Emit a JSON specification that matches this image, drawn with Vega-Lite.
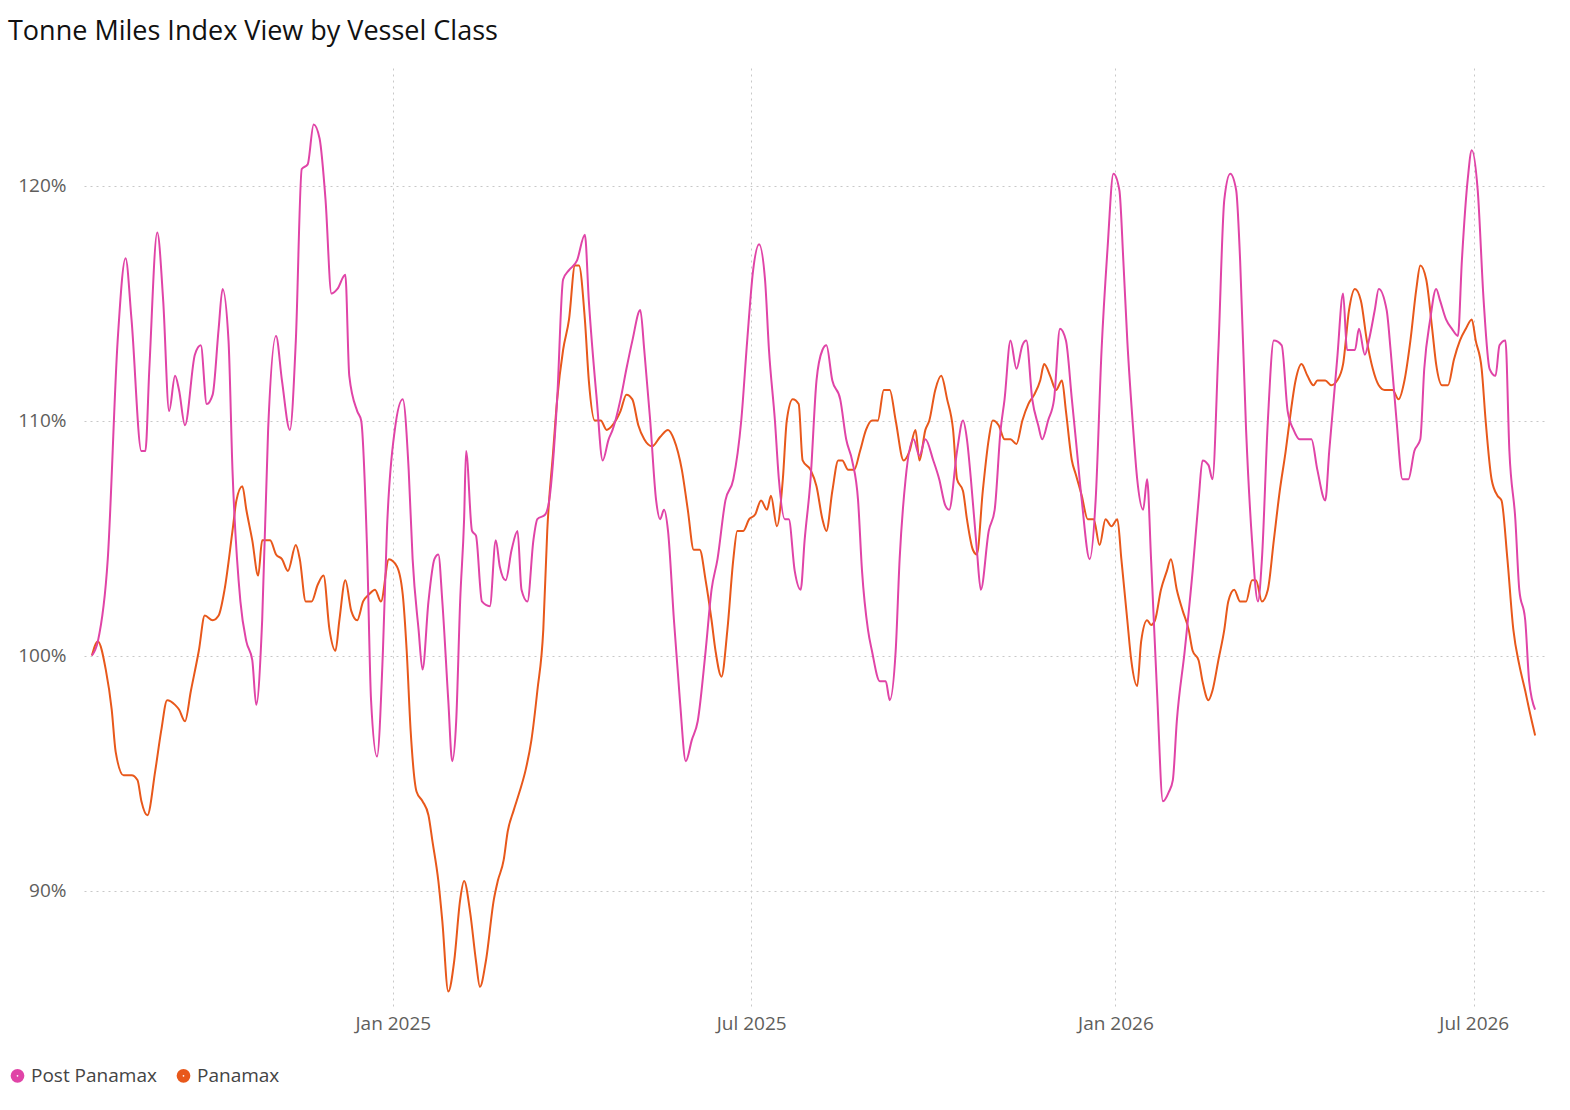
{
  "$schema": "https://vega.github.io/schema/vega-lite/v6.json",
  "autosize": "none",
  "width": 1463,
  "height": 940,
  "padding": {"left": 84, "top": 68, "right": 23, "bottom": 102},
  "background": "white",
  "title": {"text": "Tonne Miles Index View by Vessel Class", "anchor": "start", "frame": "bounds", "dx": 0, "offset": 22, "fontSize": 27, "font": "Open Sans", "fontWeight": "normal", "color": "#111111"},
  "datasets": {
    "post": [
      {"d":"2024-08-02","v":100.0},{"d":"2024-08-05","v":100.6},{"d":"2024-08-10","v":104.1},{"d":"2024-08-15","v":113.4},{"d":"2024-08-19","v":116.9},{"d":"2024-08-22","v":114.3},{"d":"2024-08-27","v":108.7},{"d":"2024-08-29","v":108.7},{"d":"2024-08-31","v":112.2},{"d":"2024-09-04","v":118.0},{"d":"2024-09-07","v":115.1},{"d":"2024-09-10","v":110.4},{"d":"2024-09-13","v":111.9},{"d":"2024-09-15","v":111.3},{"d":"2024-09-18","v":109.8},{"d":"2024-09-23","v":112.8},{"d":"2024-09-26","v":113.2},{"d":"2024-09-29","v":110.7},{"d":"2024-10-02","v":111.1},{"d":"2024-10-05","v":113.9},{"d":"2024-10-07","v":115.6},{"d":"2024-10-10","v":113.4},{"d":"2024-10-12","v":107.9},{"d":"2024-10-16","v":102.3},{"d":"2024-10-19","v":100.6},{"d":"2024-10-22","v":99.8},{"d":"2024-10-24","v":97.9},{"d":"2024-10-27","v":101.5},{"d":"2024-10-30","v":109.6},{"d":"2024-11-03","v":113.6},{"d":"2024-11-06","v":111.7},{"d":"2024-11-10","v":109.6},{"d":"2024-11-13","v":113.4},{"d":"2024-11-16","v":120.7},{"d":"2024-11-19","v":120.9},{"d":"2024-11-22","v":122.6},{"d":"2024-11-25","v":122.0},{"d":"2024-11-28","v":119.4},{"d":"2024-12-01","v":115.4},{"d":"2024-12-04","v":115.6},{"d":"2024-12-08","v":116.2},{"d":"2024-12-10","v":111.9},{"d":"2024-12-14","v":110.4},{"d":"2024-12-16","v":110.0},{"d":"2024-12-19","v":104.5},{"d":"2024-12-21","v":98.1},{"d":"2024-12-24","v":95.7},{"d":"2024-12-27","v":100.2},{"d":"2024-12-29","v":105.3},{"d":"2025-01-02","v":109.6},{"d":"2025-01-06","v":110.9},{"d":"2025-01-09","v":107.9},{"d":"2025-01-11","v":104.1},{"d":"2025-01-14","v":101.1},{"d":"2025-01-16","v":99.4},{"d":"2025-01-19","v":102.3},{"d":"2025-01-22","v":104.1},{"d":"2025-01-24","v":104.3},{"d":"2025-01-26","v":102.3},{"d":"2025-01-29","v":98.1},{"d":"2025-01-31","v":95.5},{"d":"2025-02-02","v":97.2},{"d":"2025-02-04","v":102.3},{"d":"2025-02-06","v":105.8},{"d":"2025-02-07","v":108.7},{"d":"2025-02-10","v":105.3},{"d":"2025-02-12","v":105.1},{"d":"2025-02-15","v":102.3},{"d":"2025-02-19","v":102.1},{"d":"2025-02-22","v":104.9},{"d":"2025-02-24","v":103.8},{"d":"2025-02-27","v":103.2},{"d":"2025-03-02","v":104.5},{"d":"2025-03-05","v":105.3},{"d":"2025-03-07","v":102.8},{"d":"2025-03-10","v":102.3},{"d":"2025-03-13","v":104.9},{"d":"2025-03-15","v":105.8},{"d":"2025-03-19","v":106.0},{"d":"2025-03-21","v":106.6},{"d":"2025-03-25","v":110.9},{"d":"2025-03-28","v":116.0},{"d":"2025-03-31","v":116.4},{"d":"2025-04-04","v":116.8},{"d":"2025-04-08","v":117.9},{"d":"2025-04-10","v":115.1},{"d":"2025-04-14","v":110.9},{"d":"2025-04-17","v":108.3},{"d":"2025-04-20","v":109.2},{"d":"2025-04-22","v":109.6},{"d":"2025-04-26","v":110.9},{"d":"2025-04-29","v":112.2},{"d":"2025-05-02","v":113.4},{"d":"2025-05-06","v":114.7},{"d":"2025-05-08","v":113.0},{"d":"2025-05-11","v":110.0},{"d":"2025-05-14","v":106.6},{"d":"2025-05-16","v":105.8},{"d":"2025-05-18","v":106.2},{"d":"2025-05-20","v":105.3},{"d":"2025-05-23","v":101.5},{"d":"2025-05-26","v":98.1},{"d":"2025-05-29","v":95.5},{"d":"2025-06-01","v":96.4},{"d":"2025-06-04","v":97.2},{"d":"2025-06-08","v":100.2},{"d":"2025-06-11","v":102.8},{"d":"2025-06-14","v":104.1},{"d":"2025-06-18","v":106.6},{"d":"2025-06-22","v":107.5},{"d":"2025-06-26","v":110.0},{"d":"2025-06-29","v":113.4},{"d":"2025-07-02","v":116.4},{"d":"2025-07-05","v":117.5},{"d":"2025-07-08","v":116.0},{"d":"2025-07-10","v":113.0},{"d":"2025-07-13","v":110.0},{"d":"2025-07-15","v":107.5},{"d":"2025-07-18","v":105.8},{"d":"2025-07-20","v":105.8},{"d":"2025-07-23","v":103.6},{"d":"2025-07-26","v":102.8},{"d":"2025-07-28","v":104.9},{"d":"2025-07-31","v":107.5},{"d":"2025-08-03","v":111.7},{"d":"2025-08-06","v":113.0},{"d":"2025-08-08","v":113.2},{"d":"2025-08-11","v":111.7},{"d":"2025-08-15","v":110.9},{"d":"2025-08-18","v":109.2},{"d":"2025-08-21","v":108.3},{"d":"2025-08-24","v":106.6},{"d":"2025-08-26","v":103.6},{"d":"2025-08-29","v":101.1},{"d":"2025-08-31","v":100.2},{"d":"2025-09-04","v":98.9},{"d":"2025-09-07","v":98.9},{"d":"2025-09-09","v":98.1},{"d":"2025-09-12","v":100.2},{"d":"2025-09-14","v":104.1},{"d":"2025-09-17","v":107.5},{"d":"2025-09-21","v":109.2},{"d":"2025-09-24","v":108.5},{"d":"2025-09-27","v":109.2},{"d":"2025-10-01","v":108.3},{"d":"2025-10-04","v":107.5},{"d":"2025-10-07","v":106.4},{"d":"2025-10-09","v":106.2},{"d":"2025-10-13","v":108.7},{"d":"2025-10-16","v":110.0},{"d":"2025-10-18","v":109.2},{"d":"2025-10-20","v":107.5},{"d":"2025-10-23","v":104.5},{"d":"2025-10-25","v":102.8},{"d":"2025-10-29","v":105.3},{"d":"2025-11-01","v":106.2},{"d":"2025-11-04","v":109.6},{"d":"2025-11-06","v":110.9},{"d":"2025-11-09","v":113.4},{"d":"2025-11-12","v":112.2},{"d":"2025-11-15","v":113.2},{"d":"2025-11-17","v":113.4},{"d":"2025-11-20","v":110.9},{"d":"2025-11-23","v":109.8},{"d":"2025-11-25","v":109.2},{"d":"2025-11-28","v":110.0},{"d":"2025-12-01","v":110.9},{"d":"2025-12-04","v":113.9},{"d":"2025-12-07","v":113.4},{"d":"2025-12-10","v":110.9},{"d":"2025-12-12","v":109.2},{"d":"2025-12-15","v":106.6},{"d":"2025-12-19","v":104.1},{"d":"2025-12-22","v":106.6},{"d":"2025-12-25","v":113.0},{"d":"2025-12-28","v":117.3},{"d":"2025-12-31","v":120.5},{"d":"2026-01-03","v":119.8},{"d":"2026-01-05","v":116.8},{"d":"2026-01-07","v":113.4},{"d":"2026-01-10","v":109.6},{"d":"2026-01-12","v":107.5},{"d":"2026-01-15","v":106.2},{"d":"2026-01-17","v":107.5},{"d":"2026-01-19","v":104.1},{"d":"2026-01-22","v":98.5},{"d":"2026-01-25","v":93.8},{"d":"2026-01-28","v":94.2},{"d":"2026-01-30","v":94.7},{"d":"2026-02-01","v":97.2},{"d":"2026-02-05","v":100.2},{"d":"2026-02-09","v":103.6},{"d":"2026-02-12","v":106.6},{"d":"2026-02-14","v":108.3},{"d":"2026-02-17","v":108.1},{"d":"2026-02-19","v":107.5},{"d":"2026-02-22","v":113.0},{"d":"2026-02-25","v":119.4},{"d":"2026-02-28","v":120.5},{"d":"2026-03-03","v":119.8},{"d":"2026-03-05","v":116.8},{"d":"2026-03-08","v":109.6},{"d":"2026-03-11","v":104.9},{"d":"2026-03-14","v":102.3},{"d":"2026-03-16","v":104.1},{"d":"2026-03-19","v":110.0},{"d":"2026-03-22","v":113.4},{"d":"2026-03-26","v":113.2},{"d":"2026-03-29","v":110.4},{"d":"2026-04-01","v":109.6},{"d":"2026-04-04","v":109.2},{"d":"2026-04-07","v":109.2},{"d":"2026-04-10","v":109.2},{"d":"2026-04-13","v":107.9},{"d":"2026-04-17","v":106.6},{"d":"2026-04-19","v":108.7},{"d":"2026-04-23","v":112.6},{"d":"2026-04-26","v":115.4},{"d":"2026-04-28","v":113.0},{"d":"2026-05-02","v":113.0},{"d":"2026-05-04","v":113.9},{"d":"2026-05-07","v":112.8},{"d":"2026-05-09","v":113.4},{"d":"2026-05-12","v":114.7},{"d":"2026-05-14","v":115.6},{"d":"2026-05-18","v":114.7},{"d":"2026-05-20","v":113.0},{"d":"2026-05-23","v":110.0},{"d":"2026-05-26","v":107.5},{"d":"2026-05-29","v":107.5},{"d":"2026-06-01","v":108.7},{"d":"2026-06-04","v":109.2},{"d":"2026-06-06","v":112.2},{"d":"2026-06-09","v":114.3},{"d":"2026-06-12","v":115.6},{"d":"2026-06-14","v":115.1},{"d":"2026-06-17","v":114.3},{"d":"2026-06-20","v":113.9},{"d":"2026-06-23","v":113.6},{"d":"2026-06-25","v":116.8},{"d":"2026-06-28","v":120.3},{"d":"2026-06-30","v":121.5},{"d":"2026-07-03","v":119.8},{"d":"2026-07-06","v":115.1},{"d":"2026-07-09","v":112.2},{"d":"2026-07-12","v":111.9},{"d":"2026-07-14","v":113.2},{"d":"2026-07-17","v":113.4},{"d":"2026-07-19","v":108.7},{"d":"2026-07-22","v":105.8},{"d":"2026-07-24","v":102.8},{"d":"2026-07-27","v":101.5},{"d":"2026-07-29","v":98.9},{"d":"2026-08-01","v":97.7}
    ],
    "pana": [
      {"d":"2024-08-02","v":100.0},{"d":"2024-08-05","v":100.6},{"d":"2024-08-09","v":99.4},{"d":"2024-08-12","v":97.7},{"d":"2024-08-14","v":95.9},{"d":"2024-08-18","v":94.9},{"d":"2024-08-22","v":94.9},{"d":"2024-08-25","v":94.7},{"d":"2024-08-27","v":93.8},{"d":"2024-08-30","v":93.2},{"d":"2024-09-03","v":95.1},{"d":"2024-09-06","v":96.8},{"d":"2024-09-09","v":98.1},{"d":"2024-09-13","v":97.9},{"d":"2024-09-15","v":97.7},{"d":"2024-09-18","v":97.2},{"d":"2024-09-21","v":98.5},{"d":"2024-09-25","v":100.2},{"d":"2024-09-28","v":101.7},{"d":"2024-10-02","v":101.5},{"d":"2024-10-05","v":101.7},{"d":"2024-10-08","v":102.8},{"d":"2024-10-12","v":105.3},{"d":"2024-10-14","v":106.6},{"d":"2024-10-17","v":107.2},{"d":"2024-10-19","v":106.2},{"d":"2024-10-22","v":104.9},{"d":"2024-10-25","v":103.4},{"d":"2024-10-27","v":104.9},{"d":"2024-10-31","v":104.9},{"d":"2024-11-03","v":104.3},{"d":"2024-11-06","v":104.1},{"d":"2024-11-09","v":103.6},{"d":"2024-11-13","v":104.7},{"d":"2024-11-15","v":104.1},{"d":"2024-11-18","v":102.3},{"d":"2024-11-21","v":102.3},{"d":"2024-11-24","v":103.0},{"d":"2024-11-27","v":103.4},{"d":"2024-11-30","v":101.1},{"d":"2024-12-03","v":100.2},{"d":"2024-12-05","v":101.5},{"d":"2024-12-08","v":103.2},{"d":"2024-12-11","v":101.9},{"d":"2024-12-14","v":101.5},{"d":"2024-12-17","v":102.3},{"d":"2024-12-20","v":102.6},{"d":"2024-12-23","v":102.8},{"d":"2024-12-26","v":102.3},{"d":"2024-12-30","v":104.1},{"d":"2025-01-03","v":103.8},{"d":"2025-01-06","v":102.6},{"d":"2025-01-08","v":100.2},{"d":"2025-01-10","v":96.8},{"d":"2025-01-13","v":94.2},{"d":"2025-01-16","v":93.8},{"d":"2025-01-19","v":93.2},{"d":"2025-01-21","v":92.1},{"d":"2025-01-24","v":90.4},{"d":"2025-01-26","v":88.7},{"d":"2025-01-29","v":85.7},{"d":"2025-02-01","v":87.0},{"d":"2025-02-04","v":89.6},{"d":"2025-02-06","v":90.4},{"d":"2025-02-09","v":89.1},{"d":"2025-02-12","v":87.0},{"d":"2025-02-14","v":85.9},{"d":"2025-02-17","v":87.0},{"d":"2025-02-21","v":89.6},{"d":"2025-02-23","v":90.4},{"d":"2025-02-26","v":91.3},{"d":"2025-02-28","v":92.5},{"d":"2025-03-03","v":93.4},{"d":"2025-03-06","v":94.2},{"d":"2025-03-09","v":95.1},{"d":"2025-03-12","v":96.4},{"d":"2025-03-15","v":98.5},{"d":"2025-03-18","v":101.1},{"d":"2025-03-20","v":105.3},{"d":"2025-03-23","v":108.7},{"d":"2025-03-25","v":110.9},{"d":"2025-03-28","v":113.0},{"d":"2025-03-31","v":114.3},{"d":"2025-04-03","v":116.6},{"d":"2025-04-05","v":116.6},{"d":"2025-04-08","v":114.3},{"d":"2025-04-10","v":111.7},{"d":"2025-04-13","v":110.0},{"d":"2025-04-16","v":110.0},{"d":"2025-04-19","v":109.6},{"d":"2025-04-22","v":109.8},{"d":"2025-04-26","v":110.4},{"d":"2025-04-29","v":111.1},{"d":"2025-05-02","v":110.9},{"d":"2025-05-05","v":109.8},{"d":"2025-05-08","v":109.2},{"d":"2025-05-12","v":108.9},{"d":"2025-05-16","v":109.3},{"d":"2025-05-20","v":109.6},{"d":"2025-05-23","v":109.2},{"d":"2025-05-27","v":107.9},{"d":"2025-05-30","v":106.2},{"d":"2025-06-02","v":104.5},{"d":"2025-06-05","v":104.5},{"d":"2025-06-08","v":103.2},{"d":"2025-06-11","v":101.5},{"d":"2025-06-13","v":100.2},{"d":"2025-06-16","v":99.1},{"d":"2025-06-19","v":101.1},{"d":"2025-06-22","v":104.1},{"d":"2025-06-24","v":105.3},{"d":"2025-06-27","v":105.3},{"d":"2025-06-30","v":105.8},{"d":"2025-07-03","v":106.0},{"d":"2025-07-06","v":106.6},{"d":"2025-07-09","v":106.2},{"d":"2025-07-11","v":106.8},{"d":"2025-07-14","v":105.5},{"d":"2025-07-17","v":107.5},{"d":"2025-07-19","v":110.0},{"d":"2025-07-22","v":110.9},{"d":"2025-07-25","v":110.7},{"d":"2025-07-27","v":108.3},{"d":"2025-07-31","v":107.9},{"d":"2025-08-03","v":107.2},{"d":"2025-08-06","v":105.8},{"d":"2025-08-08","v":105.3},{"d":"2025-08-11","v":107.0},{"d":"2025-08-14","v":108.3},{"d":"2025-08-16","v":108.3},{"d":"2025-08-19","v":107.9},{"d":"2025-08-22","v":107.9},{"d":"2025-08-25","v":108.7},{"d":"2025-08-28","v":109.6},{"d":"2025-08-31","v":110.0},{"d":"2025-09-03","v":110.0},{"d":"2025-09-06","v":111.3},{"d":"2025-09-09","v":111.3},{"d":"2025-09-12","v":110.0},{"d":"2025-09-16","v":108.3},{"d":"2025-09-19","v":108.7},{"d":"2025-09-22","v":109.6},{"d":"2025-09-24","v":108.3},{"d":"2025-09-27","v":109.6},{"d":"2025-09-29","v":110.0},{"d":"2025-10-02","v":111.3},{"d":"2025-10-05","v":111.9},{"d":"2025-10-08","v":110.9},{"d":"2025-10-11","v":109.6},{"d":"2025-10-13","v":107.5},{"d":"2025-10-16","v":107.0},{"d":"2025-10-18","v":105.8},{"d":"2025-10-21","v":104.5},{"d":"2025-10-23","v":104.3},{"d":"2025-10-26","v":107.0},{"d":"2025-10-29","v":109.2},{"d":"2025-10-31","v":110.0},{"d":"2025-11-03","v":109.8},{"d":"2025-11-06","v":109.2},{"d":"2025-11-09","v":109.2},{"d":"2025-11-12","v":109.0},{"d":"2025-11-15","v":110.0},{"d":"2025-11-18","v":110.7},{"d":"2025-11-21","v":111.1},{"d":"2025-11-24","v":111.7},{"d":"2025-11-26","v":112.4},{"d":"2025-11-29","v":111.9},{"d":"2025-12-02","v":111.3},{"d":"2025-12-05","v":111.7},{"d":"2025-12-07","v":110.4},{"d":"2025-12-10","v":108.3},{"d":"2025-12-12","v":107.7},{"d":"2025-12-15","v":106.8},{"d":"2025-12-18","v":105.8},{"d":"2025-12-21","v":105.8},{"d":"2025-12-24","v":104.7},{"d":"2025-12-27","v":105.8},{"d":"2025-12-30","v":105.5},{"d":"2026-01-02","v":105.8},{"d":"2026-01-04","v":104.1},{"d":"2026-01-07","v":101.5},{"d":"2026-01-09","v":99.8},{"d":"2026-01-12","v":98.7},{"d":"2026-01-14","v":100.6},{"d":"2026-01-17","v":101.5},{"d":"2026-01-19","v":101.3},{"d":"2026-01-21","v":101.5},{"d":"2026-01-24","v":102.8},{"d":"2026-01-27","v":103.6},{"d":"2026-01-29","v":104.1},{"d":"2026-02-01","v":102.8},{"d":"2026-02-04","v":101.9},{"d":"2026-02-07","v":101.1},{"d":"2026-02-09","v":100.2},{"d":"2026-02-12","v":99.8},{"d":"2026-02-14","v":98.9},{"d":"2026-02-17","v":98.1},{"d":"2026-02-19","v":98.5},{"d":"2026-02-22","v":99.8},{"d":"2026-02-25","v":101.1},{"d":"2026-02-27","v":102.3},{"d":"2026-03-02","v":102.8},{"d":"2026-03-05","v":102.3},{"d":"2026-03-08","v":102.3},{"d":"2026-03-11","v":103.2},{"d":"2026-03-13","v":103.2},{"d":"2026-03-16","v":102.3},{"d":"2026-03-19","v":102.8},{"d":"2026-03-22","v":104.9},{"d":"2026-03-25","v":107.0},{"d":"2026-03-28","v":108.7},{"d":"2026-03-30","v":110.0},{"d":"2026-04-02","v":111.7},{"d":"2026-04-05","v":112.4},{"d":"2026-04-08","v":111.9},{"d":"2026-04-11","v":111.5},{"d":"2026-04-13","v":111.7},{"d":"2026-04-17","v":111.7},{"d":"2026-04-20","v":111.5},{"d":"2026-04-23","v":111.7},{"d":"2026-04-26","v":112.4},{"d":"2026-04-29","v":114.7},{"d":"2026-05-02","v":115.6},{"d":"2026-05-05","v":115.1},{"d":"2026-05-08","v":113.4},{"d":"2026-05-11","v":112.2},{"d":"2026-05-14","v":111.5},{"d":"2026-05-17","v":111.3},{"d":"2026-05-21","v":111.3},{"d":"2026-05-24","v":110.9},{"d":"2026-05-27","v":111.7},{"d":"2026-05-30","v":113.4},{"d":"2026-06-02","v":115.6},{"d":"2026-06-04","v":116.6},{"d":"2026-06-07","v":116.0},{"d":"2026-06-10","v":113.9},{"d":"2026-06-12","v":112.4},{"d":"2026-06-15","v":111.5},{"d":"2026-06-18","v":111.5},{"d":"2026-06-21","v":112.6},{"d":"2026-06-24","v":113.4},{"d":"2026-06-27","v":113.9},{"d":"2026-06-30","v":114.3},{"d":"2026-07-02","v":113.4},{"d":"2026-07-05","v":112.2},{"d":"2026-07-07","v":110.0},{"d":"2026-07-10","v":107.5},{"d":"2026-07-13","v":106.8},{"d":"2026-07-15","v":106.6},{"d":"2026-07-18","v":104.1},{"d":"2026-07-21","v":101.1},{"d":"2026-07-24","v":99.6},{"d":"2026-07-27","v":98.5},{"d":"2026-07-29","v":97.7},{"d":"2026-08-01","v":96.6}
    ]
  },
  "layer": [
    {
      "data": {"name": "pana"},
      "transform": [{"calculate": "'Panamax'", "as": "series"}],
      "mark": {"type": "line", "strokeWidth": 2, "interpolate": "monotone"},
      "encoding": {
        "x": {"field": "d", "type": "temporal"},
        "y": {"field": "v", "type": "quantitative"},
        "color": {"field": "series", "type": "nominal"}
      }
    },
    {
      "data": {"name": "post"},
      "transform": [{"calculate": "'Post Panamax'", "as": "series"}],
      "mark": {"type": "line", "strokeWidth": 2, "interpolate": "monotone"},
      "encoding": {
        "x": {
          "field": "d", "type": "temporal", "title": null,
          "scale": {"domain": ["2024-07-29", "2026-08-07"]},
          "axis": {
            "values": ["2025-01-01", "2025-07-01", "2026-01-01", "2026-07-01"],
            "format": "%b %Y", "grid": true, "gridDash": [2, 4], "gridColor": "#C8C8C8",
            "domain": false, "ticks": false, "labelFontSize": 19, "labelColor": "#605E5C",
            "labelFont": "Open Sans", "labelPadding": 6
          }
        },
        "y": {
          "field": "v", "type": "quantitative", "title": null,
          "scale": {"domain": [85, 125], "nice": false, "zero": false},
          "axis": {
            "values": [90, 100, 110, 120], "labelExpr": "datum.value + '%'",
            "grid": true, "gridDash": [2, 4], "gridColor": "#C8C8C8",
            "domain": false, "ticks": false, "labelFontSize": 19, "labelColor": "#605E5C",
            "labelFont": "Open Sans", "labelPadding": 18
          }
        },
        "color": {
          "field": "series", "type": "nominal",
          "scale": {"domain": ["Post Panamax", "Panamax"], "range": ["#E044A7", "#E8581B"]},
          "legend": {
            "orient": "none", "direction": "horizontal", "legendX": -76, "legendY": 998,
            "title": null, "symbolType": "circle", "symbolSize": 60, "symbolStrokeWidth": 6,
            "labelFontSize": 19, "labelColor": "#444444", "labelFont": "Open Sans",
            "columnPadding": 10, "labelOffset": 4
          }
        }
      }
    }
  ],
  "config": {"view": {"stroke": null}}
}
